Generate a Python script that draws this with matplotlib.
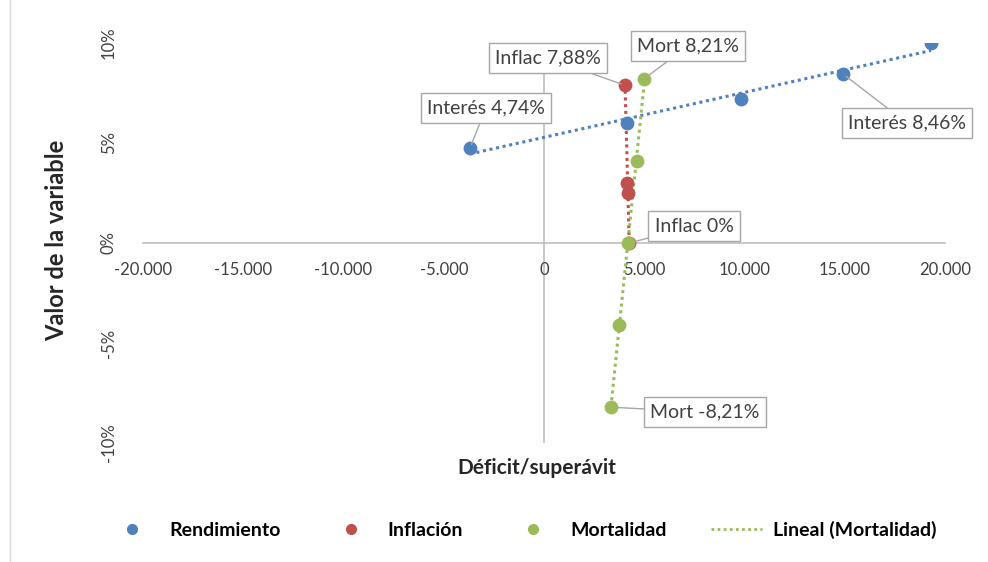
import numpy as np
import matplotlib
matplotlib.use("Agg")
from matplotlib import pyplot as plt
from matplotlib.lines import Line2D
from matplotlib.ticker import FuncFormatter

plt.rcParams['font.family'] = ['Lato', 'DejaVu Sans']

# data (x = deficit/superavit, y = valor de la variable)
rend_x = [-3700, 4150, 9850, 14900, 19300]
rend_y = [0.0474, 0.0600, 0.0722, 0.0846, 0.1000]

infl_x = [4050, 4150, 4200, 4250]
infl_y = [0.0788, 0.0300, 0.0250, 0.0000]

mort_x = [4990, 4640, 4190, 3740, 3340]
mort_y = [0.0821, 0.0410, 0.0000, -0.0410, -0.0821]

x_ticks = [-20000, -15000, -10000, -5000, 0, 5000, 10000, 15000, 20000]
y_ticks = [-0.10, -0.05, 0.0, 0.05, 0.10]

blue = '#4F81BD'
red = '#C0504D'
green = '#9BBB59'
grey = '#BFBFBF'

fig = plt.figure(figsize=(9.88, 5.62), dpi=100)
ax = fig.add_axes([143 / 988, 1 - 443 / 562, 802 / 988, 400 / 562])
ax.set_xlim(-20000, 20000)
ax.set_ylim(-0.10, 0.10)

# axis lines crossing at zero
for s in ['top', 'right', 'left']:
    ax.spines[s].set_visible(False)
ax.spines['bottom'].set_position(('data', 0))
ax.spines['bottom'].set_color(grey)
ax.spines['bottom'].set_linewidth(1.2)
ax.axvline(0, color=grey, lw=1.2, zorder=1)

ax.set_xticks(x_ticks)
ax.set_yticks(y_ticks)
ax.xaxis.set_major_formatter(FuncFormatter(lambda v, p: f"{v:,.0f}".replace(',', '.')))
ax.yaxis.set_major_formatter(FuncFormatter(lambda v, p: f"{v * 100:.0f}%"))
ax.tick_params(axis='x', length=0, pad=14, labelsize=12, colors='#404040')
ax.tick_params(axis='y', length=0, pad=19, labelsize=12, colors='#404040', labelrotation=90)
for t in ax.get_yticklabels():
    t.set_va('center')

# trendlines (linear fit over each series' x range)
for xs, ys, c in [(rend_x, rend_y, blue), (infl_x, infl_y, red), (mort_x, mort_y, green)]:
    a, b = np.polyfit(xs, ys, 1)
    xx = np.array([min(xs), max(xs)])
    ax.plot(xx, a * xx + b, color=c, lw=2.2, ls=(0, (1, 1.2)), zorder=3)

ax.scatter(rend_x, rend_y, s=80, color=blue, zorder=4)
ax.scatter(infl_x, infl_y, s=80, color=red, zorder=4)
ax.scatter(mort_x, mort_y, s=80, color=green, zorder=4)

# data labels: (text, point, box centre)
labels = [
    ("Interés 4,74%", (rend_x[0], rend_y[0]), (-2890, 0.0675)),
    ("Interés 8,46%", (rend_x[3], rend_y[3]), (18100, 0.0600)),
    ("Inflac 7,88%", (infl_x[0], infl_y[0]), (200, 0.0925)),
    ("Inflac 0%", (infl_x[3], infl_y[3]), (7480, 0.0085)),
    ("Mort 8,21%", (mort_x[0], mort_y[0]), (7180, 0.0985)),
    ("Mort -8,21%", (mort_x[4], mort_y[4]), (8030, -0.0845)),
]
for txt, pt, pos in labels:
    ax.annotate(txt, xy=pt, xytext=pos, ha='center', va='center', fontsize=14,
                color='#404040', zorder=6,
                bbox=dict(boxstyle='square,pad=0.32', fc='white', ec='#A6A6A6', lw=1),
                arrowprops=dict(arrowstyle='-', color='#A6A6A6', lw=1, shrinkA=0, shrinkB=3))

fig.text(537 / 988, 1 - 468 / 562, 'Déficit/superávit', ha='center', va='center',
         fontsize=15, fontweight='bold', color='#262626')
fig.text(57 / 988, 1 - 240 / 562, 'Valor de la variable', ha='center', va='center',
         rotation=90, fontsize=17, fontweight='bold', color='#262626')

handles = [
    Line2D([], [], ls='none', marker='o', ms=7, color=blue),
    Line2D([], [], ls='none', marker='o', ms=7, color=red),
    Line2D([], [], ls='none', marker='o', ms=7, color=green),
    Line2D([], [], color=green, lw=2, ls=(0, (1, 1.2))),
]
names = ['Rendimiento', 'Inflación', 'Mortalidad', 'Lineal (Mortalidad)']
leg = fig.legend(handles, names, loc='center', bbox_to_anchor=(522 / 988, 1 - 530 / 562),
                 ncol=4, frameon=False, handlelength=2.6, handletextpad=0.6,
                 columnspacing=2.3, prop={'weight': 'bold', 'size': 14})

# left edge of the chart frame
fig.add_artist(Line2D([10 / 988, 10 / 988], [0, 1], color='#D9D9D9', lw=1))

fig.savefig('out.png', dpi=100)
